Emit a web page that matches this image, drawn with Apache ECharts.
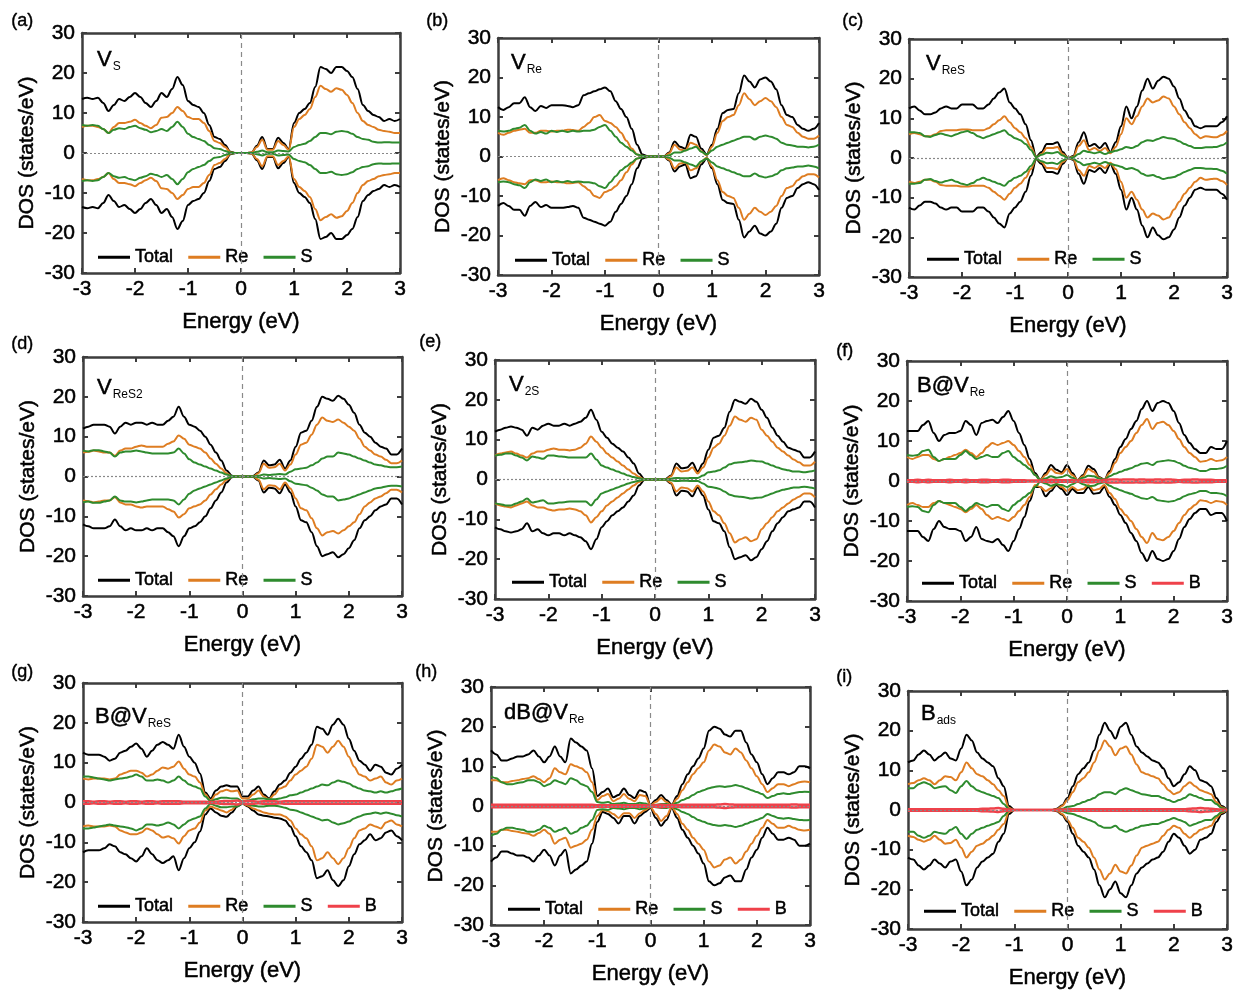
<!DOCTYPE html>
<html>
<head>
<meta charset="utf-8">
<script src="https://cdn.jsdelivr.net/npm/echarts@6/dist/echarts.min.js"></script>
<style>
  html, body { margin: 0; background: #fff; }
  #main { width: 1243px; height: 993px; }
</style>
</head>
<body>
<div id="main"></div>
<script>
// energy grid (eV), -3 .. 3 in 0.1 steps
const energy = [-3.0,-2.9,-2.8,-2.7,-2.6,-2.5,-2.4,-2.3,-2.2,-2.1,
  -2.0,-1.9,-1.8,-1.7,-1.6,-1.5,-1.4,-1.3,-1.2,-1.1,
  -1.0,-0.9,-0.8,-0.7,-0.6,-0.5,-0.4,-0.3,-0.2,-0.1,
  0.0,0.1,0.2,0.3,0.4,0.5,0.6,0.7,0.8,0.9,
  1.0,1.1,1.2,1.3,1.4,1.5,1.6,1.7,1.8,1.9,
  2.0,2.1,2.2,2.3,2.4,2.5,2.6,2.7,2.8,2.9,
  3.0];

const xTicks = [-3, -2, -1, 0, 1, 2, 3];
const yTicks = [-30, -20, -10, 0, 10, 20, 30];

// spin-up DOS (states/eV). Spin-down magnitudes: the *Dn arrays where the
// two channels differ, otherwise the spin-up values drawn below zero.
// (a) V_S
const totalA = [13.5,13.8,13.5,13.8,12.5,10.5,12,13.5,13,14, 15,14,12.5,11.5,13,15,14,16,19,17, 13,12,11.5,10,7,4,3.5,2,0.3,0, 0,0,0.1,1.8,4,1,1,3.8,2.5,1, 7.5,10,11,12.5,16.5,21.5,21,20,21.5,21.5, 20.5,19,16,12,10.5,9.5,9,8,8.5,8, 8.5];
const reA = [6.5,6.8,6.8,6.5,6,5,6.5,7.5,7.5,7.8, 8.3,7.5,6.8,6.2,7,8.8,9,10,11.5,10.5, 9,8.5,8.5,7.5,5.5,3,2.5,1.5,0.2,0, 0,0,0.1,1.5,3.3,0.8,0.8,3,2,0.8, 6.5,8.5,9.5,11,14,16.8,16,15.3,16.2,15.8, 14.5,12.5,10,8,7,6.5,5.8,5.5,5.3,5, 5];
const sA = [7,6.8,7,6.8,6,5,5.8,6.2,6,6.5, 6.8,6.2,5.8,5.2,5.5,6,5.5,6.5,7.8,6.5, 4.8,4,3.5,3,2,1.2,1,0.5,0.1,0, 0,0,0,0.3,0.6,0.2,0.2,0.6,0.5,0.4, 1.5,2,2.3,3,4,5,5,4.7,5.3,5.5, 5.3,4.8,4,3.5,3.3,2.8,2.6,2.7,2.7,2.6, 2.6];
// (b) V_Re
const totalB = [12.5,11.8,12.5,13.5,13.5,15,12.5,11.5,12.8,12.3, 13,13,13,12.8,12.5,13,15.5,16,16.5,17, 17.5,16.5,14,12,10,7,3,0.5,0.1,0, 0,0,1,3.8,2.5,2,5.5,5,2,0.5, 3,7,11,11.8,12,16,20.5,19,17.5,19.5, 20,19,17,13,10.5,10,8,7,6.5,7, 8.5];
const reB = [6,5.5,6,6.5,6.8,7,6,6,6.5,6.5, 6.3,6.5,6.5,6.8,6.7,6.5,7.5,8.5,10,10.5, 9,8.5,7.5,6,4,2,0.5,0.2,0,0, 0,0,0.8,3,1.8,1.5,3.5,3,1.3,0.3, 2.5,6,9,10,10.5,13,16,14.5,13,14, 14.8,14,12.5,10,8,7.5,6,5,4.5,4.5, 5.3];
const sB = [6.5,6.3,6.5,7,7.3,8,6.5,5.8,6.2,5.8, 6.5,6.2,6.5,6.2,6.5,6.3,6.5,6.5,6.8,7.5, 8,6.5,5,3.5,2.5,1.5,0.5,0.2,0,0, 0,0,0.3,1,1,1.5,2,2.5,1.2,0.5, 1.5,2.5,3,3.5,4,4.5,5,5,4.3,5, 5.3,5,4.5,3.5,3,2.8,2.5,2.5,2.3,2.5, 3];
// (c) V_ReS
const totalC = [12.5,13,12,11,11,11.5,12.5,13,12.5,12.5, 13.5,13.5,13.5,12.5,12.5,13.5,15,16.5,17.5,14, 12.5,11,8.5,4.5,0.3,1.5,3.5,3.5,4,1.5, 0,0.5,4,6.5,3,3.5,2.5,3.8,1.5,4, 8,13,10,13,17,20,17.5,19.5,20.5,20, 18,15,12,10,8,7.5,8,8,8,9, 10.5];
const reC = [6,6.3,6,5.5,5.5,6,6.8,7,7,7, 7.2,7.2,7,7,7,7.5,8.5,9.5,10.5,9, 7.5,6.5,5,2.8,0.2,1,2.5,2.5,2.8,1, 0,0.3,3,4.5,2,2.5,1.8,2.5,1.2,2.8, 6,10,8.5,10.5,13,15,14,14.5,15.5,15, 13,11,9,7.5,6,5,5.5,5.3,5.2,5.8, 6.8];
const sC = [6.5,6.5,6.3,5.5,5.3,5.8,6.2,5.8,5.5,6, 6.5,6.8,6.3,5.5,5,5.5,6,6.5,7,5.8, 5,4.5,3.5,2,0.2,0.8,1.3,1.2,1.5,0.6, 0,0.2,1,1.8,1.5,1.2,1.5,1,1.5,1.8, 2.2,2.8,2.5,3,4,4.5,4.3,4.8,5.3,5, 4.8,4.2,3.5,3,2.5,2.5,2.7,2.7,2.8,3.2, 4];
// (d) V_ReS2
const totalD = [12,12.5,13,13,13,12.5,10.8,12.5,13.5,13, 13.5,13.5,13,13.5,13,13,14,15,17.5,15, 13,12.5,11.5,10,8,6,4,1.5,0.2,0, 0,0,0.1,1,4,2.8,3,4.2,2,4, 7.5,11,11.5,14,17.5,20,19.5,19,20.3,19.5, 18,16,13,11,10,8.5,7.5,7,5.5,5.5, 7];
const reD = [6,6.2,6.5,6.3,6,6,5.2,6.5,7,7, 7.5,7.8,7.5,7.5,7.5,7.5,8.2,8.8,10.3,9.5, 8,7.5,7,6,4.5,3.2,2,0.8,0.1,0, 0,0,0,0.8,3.2,2.2,2.3,3.2,1.5,3, 5.5,8,8.5,10.5,13,14.8,14,13.7,14.3,13.5, 12.5,11.5,9.5,7.5,6.5,5.5,5,4.2,3.3,3.3, 4];
const sD = [6.5,6.3,6.6,6.6,6.3,6,5,6,6.3,6.3, 6.5,6.3,6,5.8,5.8,5.8,5.8,6,7,5.8, 4.3,3.5,3,2.5,2,1.5,1,0.5,0.1,0, 0,0,0,0.2,0.5,0.4,0.5,0.6,0.5,1.2, 1.8,2,2.2,2.8,3.5,4.5,5,5,6,5.8, 5.5,5,4.5,4,3.5,3,2.8,2.5,2.3,2.3, 2.5];
// (e) V_2S
const totalE = [12,12.5,13,13.3,13,12.5,11,13,12.5,13.5, 14,13.5,13.5,14,13.5,14,14.5,15.5,17.5,15, 12,10.5,9,8,7,5.5,4,1.5,0.1,0, 0,0,0.1,1,4,2.8,3,4.2,2,4, 7.5,10.5,11,13,17,20,19.5,19,20.3,19.5, 17.5,15.5,13,11,9.5,8,7.5,7,5.5,5.5, 7];
const reE = [6,6.5,6.8,7,6.5,6,5.5,6.5,7,7, 7.5,7.8,7.5,7.5,7.3,7.5,8,9,10.8,9.5, 8,6.5,5.5,4.5,3.5,2.5,1.5,0.6,0,0, 0,0,0,0.8,3,2,2.2,3,1.5,3, 5.5,8,9,11,13.5,15.8,15,14.5,15.5,15, 12.5,11,9.5,8,7,6,5,4.3,3.5,3.5, 4.5];
const sE = [6,6.2,6.5,6.5,6,5.5,4.8,5.8,5.5,5.2, 6,6,5.8,5.7,5.5,5.5,5.5,5.5,6.5,5, 3.5,3,2.5,2,1.5,1,0.6,0.3,0,0, 0,0,0,0.2,0.4,0.3,0.3,0.4,0.4,1, 1.8,2,2.3,3,3.8,4.2,4.3,4.5,4.8,4.6, 4.5,4,3.5,3,2.6,2.3,2,2,1.8,2, 2.3];
// (f) B@V_Re
const totalF = [12.5,12.5,12.5,14,15,12,10,11.5,12,12, 12.5,15,14,11.5,14.5,15,15.3,14.5,16,17.5, 15,12,9,5.5,2,0.3,2,4,2.8,2.2, 4,2,0.2,1.5,3.8,3,1,0.3,2.5,5.5, 8.5,10.5,13,15,18,20,17.5,19.5,20,19.5, 17.5,14.5,11.5,9.5,8,7,7,8.5,8,8, 10];
const totalFDn = [12.5,12.5,12.5,14,15,12,10,11.5,12,12, 12.5,15,14,11.5,14.5,15,15.3,14.5,16,17.5, 15,12,9,5,1.5,1.5,3.8,2.5,1,2, 3.5,2,3,3,1.5,3.2,3,1.5,4,6, 8.5,10.5,13,15,18,20,17.5,19.5,20,19.5, 17.5,14.5,11.5,9.5,8,7,7,8.5,8,8, 10];
const reF = [6,5.5,6,6.5,6.5,5.5,5,5.5,6,6.5, 7,7.8,7,6,7,8.5,9.5,9,9.5,10, 9,7.5,6,4,1.5,0.2,1.5,3,2,1.8, 3,1.5,0.2,1.2,3,2.3,0.8,0.3,2,4.5, 7,8.5,10,12,14,15.5,13,14.5,14.8,14, 12.5,10.5,8.5,7,6,4.8,5,5.5,5,5.2, 6];
const reFDn = [6,5.5,6,6.5,6.5,5.5,5,5.5,6,6.5, 7,7.8,7,6,7,8.5,9.5,9,9.5,10, 9,7.5,6,4,1,1.5,2.5,1.8,0.7,1.5, 2.5,1.5,2.3,2,1,2.3,2,1,3,4.5, 7,8.5,10,12,14,15.5,13,14.5,14.8,14, 12.5,10.5,8.5,7,6,4.8,5,5.5,5,5.2, 6];
const sF = [6.5,6.3,6.5,7.5,7.8,6,5,5.5,5.5,5.5, 6.5,7.5,6.5,5.5,6,6.5,6,6,7,7.5, 6,5,4,3,1.5,0.2,0.6,1.2,0.8,1, 1.5,0.8,0.2,0.8,1.3,1.2,0.6,0.3,1.2,1.8, 2.3,2.8,3.2,3.8,4.3,4.5,4,4.8,5,5.2, 5,4.5,3.8,3.3,3,2.5,2.5,3,3,3.2, 3.8];
const bF = [0.2,0.2,0.3,0.2,0.3,0.2,0.2,0.2,0.3,0.2, 0.2,0.3,0.2,0.2,0.3,0.3,0.2,0.2,0.3,0.3, 0.2,0.2,0.2,0.1,0.1,0.1,0.2,0.3,0.2,0.2, 0.2,0.2,0.1,0.2,0.3,0.3,0.1,0.2,0.4,0.4, 0.3,0.4,0.4,0.3,0.4,0.3,0.3,0.4,0.3,0.4, 0.3,0.2,0.3,0.3,0.4,0.3,0.3,0.3,0.2,0.2, 0.2];
// (g) B@V_ReS
const totalG = [12.5,12,12,12,11.5,10.5,11,12.5,13,14, 14.8,13.5,11.5,13,14.5,15.2,14.5,13.5,17,14, 11.5,10,7.3,2.5,1,3,4,4.3,4,4, 1.5,1.5,3,4,2,1,2.8,4.5,5.5,7.5, 9,11,12.5,14.5,19,18.5,17,19.5,21,19.5, 16,13,10.5,9.5,8,9.5,9,7.5,7,8.5, 9.5];
const totalGDn = [12.5,12,12,12,11.5,10.5,11,12.5,13,14, 14.8,13.5,11.5,13,14.5,15.2,14.5,13.5,17,14, 11.5,10,7.3,3,1.5,2.5,3.3,3.6,2.5,1, 0.3,1,2,3,3.3,3.5,3.8,4,4.5,6, 8.5,11,12.5,14.5,19,18.5,17,19.5,21,19.5, 16,13,10.5,9.5,8,9.5,9,7.5,7,8.5, 9.5];
const reG = [6,5.8,6,6,6,5.8,6,7,7.5,8, 8,7.5,6.5,7,8,8.8,8.5,9,10.3,8.5, 7,6.5,5,2,0.5,2,2.8,3.2,2.8,3, 1,1,2,3,1.5,0.8,2,3.5,4,5.5, 7,8,9,11,14.5,14,12.5,14,15.5,14, 11.5,9,7,6.5,5.5,6,6.5,5,4.5,5.5, 6];
const reGDn = [6,5.8,6,6,6,5.8,6,7,7.5,8, 8,7.5,6.5,7,8,8.8,8.5,9,10.3,8.5, 7,6.5,5,2,1,1.5,2,2.5,1.8,0.5, 0.3,0.8,1.5,2,2.5,2.8,3,3,3.5,4.5, 6.5,8,9,11,14.5,14,12.5,14,15.5,14, 11.5,9,7,6.5,5.5,6,6.5,5,4.5,5.5, 6];
const sG = [6.5,6.5,6.3,6,5.8,5.5,5.8,6,6.2,6.5, 7,6.5,5.5,5.5,5.8,5.5,5,5.5,6.5,5.5, 4.5,4,3.5,1.5,0.3,0.8,1.2,1.2,1,1, 0.3,0.5,0.8,1,1,0.8,0.8,1,1.3,1.8, 2,2.5,3,3.5,4,4.5,4.3,5,5.5,5.2, 4.8,4,3.5,3,2.8,2.5,2.8,2.5,2.8,3.2, 3.5];
const bG = [0.3,0.3,0.2,0.3,0.3,0.2,0.3,0.3,0.2,0.3, 0.3,0.2,0.3,0.3,0.2,0.3,0.3,0.3,0.3,0.2, 0.2,0.2,0.2,0.2,0.1,0.2,0.3,0.4,0.3,0.5, 0.2,0.4,0.3,0.2,0.3,0.3,0.3,0.2,0.3,0.3, 0.3,0.3,0.3,0.3,0.3,0.3,0.3,0.3,0.3,0.3, 0.3,0.3,0.3,0.3,0.3,0.3,0.3,0.3,0.3,0.3, 0.3];
// (h) dB@V_Re
const totalH = [14,13,11.5,11.5,12,12.5,12.5,13,14,12.5, 11,12.5,15,12.5,11,17,16,15,14,9.5, 2.5,3.5,4.4,2.2,2.8,4.4,2.8,2,4,3.5, 0.3,1.5,2.8,1.5,0.3,2.5,5.5,8,10,12, 14.5,19,20,19.5,18,17.5,19,19,16,13, 11,8,5.5,7,8.5,8.5,8,8.5,10,10, 9.5];
const totalHDn = [14,13,11.5,11.5,12,12.5,12.5,13,14,12.5, 11,12.5,15,12.5,11,17,16,15,14,9.5, 4,1.5,2,3,4.4,2.5,2.5,4.4,2.5,1.5, 0.5,3,5,3.5,0.5,3,6,8,10,12, 14.5,19,20,19.5,18,17.5,19,19,16,13, 11,8,5.5,7,8.5,8.5,8,8.5,10,10, 9.5];
const reH = [6.5,6.5,6,6,6.3,6.5,6.8,7,7.5,6.8, 6,7,9.5,8.5,8,10.5,10,9.5,8.5,6, 1.5,2.5,3,1.2,1.8,3,1.8,1.2,2.8,2.5, 0.2,1,2,1,0.2,1.8,4,6,8,9.5, 11,14,15.5,15,13.5,13,14.5,13.5,11.5,9.5, 7.5,5.5,3.5,4.5,5.5,5.5,5,5.5,6,6.2, 6];
const reHDn = [6.5,6.5,6,6,6.3,6.5,6.8,7,7.5,6.8, 6,7,9.5,8.5,8,10.5,10,9.5,8.5,6, 2.5,1,1.3,2,3,1.8,1.8,3,1.8,1, 0.3,2,3.8,2.5,0.3,2,4.5,6,8,9.5, 11,14,15.5,15,13.5,13,14.5,13.5,11.5,9.5, 7.5,5.5,3.5,4.5,5.5,5.5,5,5.5,6,6.2, 6];
const sH = [7.5,7,6,5.5,5.5,5.8,6,6.5,6.5,6, 5,5.5,6.5,6,5.5,7,6.5,5.5,5,3.5, 1,0.8,1,0.5,0.6,0.8,0.5,0.5,0.8,0.6, 0.1,0.3,0.5,0.5,0.2,0.8,1.5,2,2.8,3.5, 4,4.5,4.8,5,4.8,5,5.3,5,4.5,4, 3.5,3,2,2.5,3,3.2,3,3.3,3.5,3.6, 3.5];
const bH = [0.3,0.3,0.3,0.3,0.3,0.3,0.3,0.3,0.3,0.3, 0.3,0.3,0.3,0.3,0.3,0.3,0.3,0.3,0.3,0.3, 0.2,0.2,0.2,0.2,0.2,0.2,0.2,0.2,0.2,0.2, 0.1,0.2,0.3,0.2,0.2,0.2,0.3,0.3,0.3,0.3, 0.3,0.3,0.3,0.4,0.5,0.4,0.3,0.3,0.3,0.3, 0.3,0.3,0.3,0.3,0.3,0.3,0.3,0.4,0.3,0.3, 0.3];
// (i) B_ads
const totalI = [12,12.5,14,15,14,12.5,13.5,14.5,13,12.5, 15.5,19,17.5,14.5,13,12,11,8,6,1, 0,0,0,0,0,0,0,0,0.3,1.2, 3,6,9,10.5,12,15,19,22,20,18, 21,22,19,16,14.5,13.5,12.5,12,10.5,8, 6,7,9,11,10,7.5,7,6,3,1, 0];
const reI = [6.5,6.8,7.5,8,7.5,6.5,7.5,8.5,8.3,7.5, 9.5,12,10.5,9,8.5,7.5,6.5,5,3.5,0.5, 0,0,0,0,0,0,0,0,0.2,1, 2.5,4.5,7,8,9.5,12,15,17.5,16,13.8, 15.5,16,14,11.5,9.5,9,8.5,8,6.5,5, 4,4.5,6,7,6,5,4.5,4,2,0.7, 0];
const sI = [5.5,5.5,6.5,7,6.5,5.5,5.8,6,5,4.3, 6,7.3,6,5,4.5,4,3.5,3,1.5,0.2, 0,0,0,0,0,0,0,0,0,0.3, 0.8,1,1.5,2,2.5,3,4,4.5,4.5,4, 5,5.5,5,4.5,4,3.8,3.5,3.5,3,2.5, 2,2.5,3,4,3.5,3,2.5,2.5,1.5,0.5, 0];
const bI = [0.2,0.2,0.2,0.2,0.2,0.2,0.2,0.2,0.2,0.2, 0.2,0.2,0.2,0.2,0.3,0.3,0.4,0.5,0.3,0.1, 0,0,0,0,0,0,0,0,0,0.1, 0.2,0.2,0.2,0.2,0.2,0.2,0.2,0.2,0.2,0.2, 0.2,0.2,0.2,0.2,0.2,0.2,0.2,0.2,0.2,0.2, 0.2,0.2,0.2,0.3,0.4,0.5,0.4,0.3,0.2,0.1, 0];

const FONT = 'Arial, "Liberation Sans", sans-serif';
const colors = { Total: '#000000', Re: '#DE7D22', S: '#2E8B2E', B: '#EF414A' };
// a thin outline gives the text the heavier look of the original figure
const heavy = { textBorderColor: '#000', textBorderWidth: 0.5 };

// layout: plot box [left, top, width, height], tag pos, label pos, legend pos
const panels = [
  { tag: '(a)', tagPos: [11, 22], main: 'V', sub: 'S', labPos: [97, 60], legPos: [98, 248],
    box: [82, 33, 318, 240], up: { Total: totalA, Re: reA, S: sA } },
  { tag: '(b)', tagPos: [426, 22], main: 'V', sub: 'Re', labPos: [511, 63], legPos: [515, 251],
    box: [498, 38, 321, 237], up: { Total: totalB, Re: reB, S: sB } },
  { tag: '(c)', tagPos: [842, 22], main: 'V', sub: 'ReS', labPos: [926, 64], legPos: [927, 250],
    box: [909, 39, 318, 238], up: { Total: totalC, Re: reC, S: sC } },
  { tag: '(d)', tagPos: [11, 345], main: 'V', sub: 'ReS2', labPos: [97, 388], legPos: [98, 571],
    box: [83, 357, 319, 239], up: { Total: totalD, Re: reD, S: sD } },
  { tag: '(e)', tagPos: [419, 343], main: 'V', sub: '2S', labPos: [509, 385], legPos: [512, 573],
    box: [495, 360, 320, 239], up: { Total: totalE, Re: reE, S: sE } },
  { tag: '(f)', tagPos: [836, 352], main: 'B@V', sub: 'Re', labPos: [917, 386], legPos: [922, 574],
    box: [907, 361, 320, 240], up: { Total: totalF, Re: reF, S: sF, B: bF },
    dn: { Total: totalFDn, Re: reFDn } },
  { tag: '(g)', tagPos: [11, 673], main: 'B@V', sub: 'ReS', labPos: [95, 717], legPos: [98, 897],
    box: [83, 683, 319, 239], up: { Total: totalG, Re: reG, S: sG, B: bG },
    dn: { Total: totalGDn, Re: reGDn } },
  { tag: '(h)', tagPos: [415, 673], main: 'dB@V', sub: 'Re', labPos: [504, 713], legPos: [508, 900],
    box: [491, 687, 319, 238], up: { Total: totalH, Re: reH, S: sH, B: bH },
    dn: { Total: totalHDn, Re: reHDn } },
  { tag: '(i)', tagPos: [836, 678], main: 'B', sub: 'ads', labPos: [921, 714], legPos: [924, 902],
    box: [908, 691, 319, 238], up: { Total: totalI, Re: reI, S: sI, B: bI } }
];

const chart = echarts.init(document.getElementById('main'), null, { renderer: 'canvas' });

const axisLine = { show: true, onZero: false, lineStyle: { color: '#3d3d3d', width: 2.5 } };
const axisTick = { show: true, inside: true, length: 5, lineStyle: { color: '#3d3d3d', width: 2 } };
const labelStyle = Object.assign({ color: '#000', fontSize: 21, fontFamily: FONT }, heavy);

const option = {
  animation: false,
  backgroundColor: '#fff',
  grid: [], xAxis: [], yAxis: [], series: [], legend: [], graphic: []
};

panels.forEach((p, i) => {
  option.grid.push({ left: p.box[0], top: p.box[1], width: p.box[2], height: p.box[3], show: false });

  const xBase = { type: 'value', gridIndex: i, min: xTicks[0], max: xTicks[xTicks.length - 1], interval: 1,
    axisLine, axisTick, splitLine: { show: false } };
  const yBase = { type: 'value', gridIndex: i, min: yTicks[0], max: yTicks[yTicks.length - 1], interval: 10,
    axisLine, axisTick, splitLine: { show: false } };

  option.xAxis.push(Object.assign({}, xBase, {
    position: 'bottom',
    axisLabel: Object.assign({ margin: 6 }, labelStyle),
    name: 'Energy (eV)', nameLocation: 'middle', nameGap: 38,
    nameTextStyle: Object.assign({ color: '#000', fontSize: 22, fontFamily: FONT }, heavy)
  }));
  option.xAxis.push(Object.assign({}, xBase, { position: 'top', axisLabel: { show: false } }));

  option.yAxis.push(Object.assign({}, yBase, {
    position: 'left',
    axisLabel: Object.assign({ margin: 7 }, labelStyle),
    name: 'DOS (states/eV)', nameLocation: 'middle', nameGap: 44,
    nameTextStyle: Object.assign({ color: '#000', fontSize: 21, fontFamily: FONT }, heavy)
  }));
  option.yAxis.push(Object.assign({}, yBase, { position: 'right', axisLabel: { show: false } }));

  const names = Object.keys(p.up);
  names.forEach((nm, k) => {
    const upVals = p.up[nm];
    const dnVals = (p.dn && p.dn[nm]) || upVals;
    const common = {
      type: 'line', name: nm, xAxisIndex: 2 * i, yAxisIndex: 2 * i,
      showSymbol: false, symbol: 'none', smooth: 0.35, smoothMonotone: 'x', silent: true,
      color: colors[nm], itemStyle: { color: colors[nm] },
      lineStyle: { color: colors[nm], width: nm === 'B' ? 2.5 : 2 }
    };
    const up = Object.assign({}, common, { data: energy.map((e, j) => [e, upVals[j]]) });
    const down = Object.assign({}, common, { data: energy.map((e, j) => [e, -dnVals[j]]) });
    if (k === 0) {
      up.markLine = {
        silent: true, symbol: 'none', label: { show: false }, animation: false,
        data: [
          { xAxis: 0, lineStyle: { type: [5, 4], color: '#8a8a8a', width: 1.2 } },
          { yAxis: 0, lineStyle: { type: [2, 2], color: '#888', width: 1.2 } }
        ]
      };
    }
    option.series.push(up, down);
  });

  option.legend.push({
    data: names, left: p.legPos[0], top: p.legPos[1], padding: 0,
    icon: 'rect', itemWidth: 32, itemHeight: 3, itemGap: 15, selectedMode: false,
    textStyle: Object.assign({ color: '#000', fontSize: 18, fontFamily: FONT }, heavy)
  });

  option.graphic.push({
    type: 'text', left: p.tagPos[0], top: p.tagPos[1] - 10,
    style: { text: p.tag, fill: '#000', font: '18px ' + FONT, stroke: '#000', lineWidth: 0.4 }
  });
  option.graphic.push({
    type: 'text', x: p.labPos[0], y: p.labPos[1],
    style: {
      text: '{m|' + p.main + '}{s|' + p.sub + '}',
      verticalAlign: 'middle',
      rich: {
        m: { fontSize: 22, fontFamily: FONT, fill: '#000', lineHeight: 26, verticalAlign: 'middle',
          stroke: '#000', lineWidth: 0.5 },
        s: { fontSize: 12, fontFamily: FONT, fill: '#000', lineHeight: 26, padding: [14, 0, 0, 1], verticalAlign: 'middle' }
      }
    }
  });
});

chart.setOption(option);
</script>
</body>
</html>
